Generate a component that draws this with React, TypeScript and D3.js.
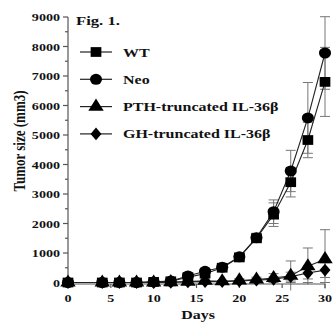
import * as d3 from "d3";

// Tumor growth curves, Fig. 1
const DAYS = [0, 4, 6, 8, 10, 12, 14, 16, 18, 20, 22, 24, 26, 28, 30];
const WT = [0, 0, 0, 0, 20, 40, 180, 300, 500, 850, 1500, 2300, 3400, 4830, 6800];
const WT_ERR = [0, 0, 0, 0, 10, 20, 60, 80, 100, 120, 150, 400, 500, 600, 1170];
const NEO = [0, 0, 0, 0, 20, 50, 220, 380, 520, 870, 1520, 2400, 3780, 5580, 7780];
const NEO_ERR = [0, 0, 0, 0, 10, 20, 80, 100, 100, 120, 150, 400, 700, 1200, 1230];
const PTH = [0, 0, 0, 0, 0, 10, 30, 60, 40, 70, 100, 150, 230, 550, 790];
const PTH_ERR = [0, 0, 0, 0, 0, 10, 20, 30, 30, 60, 80, 150, 500, 620, 1000];
const GH = [0, 0, 0, 0, 0, 10, 20, 30, 30, 50, 80, 110, 200, 320, 420];
const GH_ERR = [0, 0, 0, 0, 0, 10, 20, 20, 30, 40, 60, 80, 150, 200, 250];

const SERIES_NAMES = ["WT", "Neo", "PTH-truncated IL-36\u03b2", "GH-truncated IL-36\u03b2"];
const SERIES_SHAPES = ["square", "circle", "triangle", "diamond"];
const X_TICKS = [0, 5, 10, 15, 20, 25, 30];
const Y_TICKS = [0, 1000, 2000, 3000, 4000, 5000, 6000, 7000, 8000, 9000];

const FONT = "'Liberation Serif', 'Times New Roman', serif";
const SX = 1.28; // the figure is stretched sideways

const x = d3.scaleLinear().domain([0, 30]).range([68, 325]);
const y = d3.scaleLinear().domain([0, 9000]).range([282.5, 17]);

const symbolFor: Record<string, d3.SymbolType> = {
  square: d3.symbolSquare,
  circle: d3.symbolCircle,
  triangle: d3.symbolTriangle,
  diamond: d3.symbolDiamond,
};
const sizeFor: Record<string, number> = { square: 95, circle: 95, triangle: 85, diamond: 85 };

function Marker({ shape, cx, cy }: { shape: string; cx: number; cy: number }) {
  const p = d3.symbol(symbolFor[shape], sizeFor[shape])() ?? "";
  const sy = shape === "diamond" ? 0.75 : 1;
  return <path d={p} transform={`translate(${cx},${cy}) scale(1.1,${sy})`} fill="#000" />;
}

function T({ x: tx, y: ty, size, anchor = "start", children, weight = 700 }: any) {
  return (
    <text
      transform={`translate(${tx},${ty}) scale(${SX},1)`}
      fontFamily={FONT}
      fontSize={size}
      fontWeight={weight}
      textAnchor={anchor}
      fill="#111"
    >
      {children}
    </text>
  );
}

export default function App() {
  const series = [
    { v: WT, e: WT_ERR, shape: "square" },
    { v: NEO, e: NEO_ERR, shape: "circle" },
    { v: PTH, e: PTH_ERR, shape: "triangle" },
    { v: GH, e: GH_ERR, shape: "diamond" },
  ];
  const line = d3
    .line<number>()
    .x((_, i) => x(DAYS[i]))
    .y((d) => y(d));
  const axisY = 284;

  return (
    <svg width={333} height={323} style={{ position: "absolute", left: 0, top: 0, background: "#fff" }}>
      {/* error bars */}
      {series.map((s, si) =>
        s.v.map((v, i) =>
          s.e[i] > 0 ? (
            <g key={`e${si}-${i}`} stroke="#777" strokeWidth={1}>
              <line x1={x(DAYS[i])} x2={x(DAYS[i])} y1={y(v - s.e[i])} y2={y(v + s.e[i])} />
              <line x1={x(DAYS[i]) - 5} x2={x(DAYS[i]) + 5} y1={y(v + s.e[i])} y2={y(v + s.e[i])} />
              <line x1={x(DAYS[i]) - 5} x2={x(DAYS[i]) + 5} y1={y(Math.max(0, v - s.e[i]))} y2={y(Math.max(0, v - s.e[i]))} />
            </g>
          ) : null,
        ),
      )}

      {/* axes */}
      <g stroke="#555" strokeWidth={1.2} fill="none">
        <line x1={68} x2={68} y1={y(9000)} y2={axisY} />
        <line x1={68} x2={x(30)} y1={axisY} y2={axisY} />
        {d3.range(0, 9001, 500).map((t) => (
          <line key={`yt${t}`} x1={t % 1000 === 0 ? 63 : 65} x2={68} y1={y(t)} y2={y(t)} />
        ))}
        {X_TICKS.map((t) => (
          <line key={`xt${t}`} x1={x(t)} x2={x(t)} y1={axisY} y2={axisY + 4} />
        ))}
      </g>
      {Y_TICKS.map((t) => (
        <T key={`yl${t}`} x={60} y={y(t) + 4} size={11} anchor="end">
          {t}
        </T>
      ))}
      {X_TICKS.map((t) => (
        <T key={`xl${t}`} x={x(t)} y={302} size={11} anchor="middle">
          {t}
        </T>
      ))}
      <T x={198} y={319} size={12.5} anchor="middle">
        Days
      </T>
      <text
        transform={`translate(25,141) rotate(-90) scale(1,${SX})`}
        fontFamily={FONT}
        fontSize={13}
        fontWeight={700}
        textAnchor="middle"
        fill="#111"
      >
        Tumor size (mm3)
      </text>

      {/* lines */}
      {series.map((s, si) => (
        <path key={`l${si}`} d={line(s.v) ?? ""} fill="none" stroke="#222" strokeWidth={1.1} />
      ))}
      {/* markers */}
      {series.map((s, si) =>
        s.v.map((v, i) => <Marker key={`m${si}-${i}`} shape={s.shape} cx={x(DAYS[i])} cy={y(v)} />),
      )}

      {/* legend */}
      <T x={76} y={25} size={13}>
        Fig. 1.
      </T>
      {SERIES_NAMES.map((name, i) => {
        const ly = 52 + i * 27.3;
        return (
          <g key={name}>
            <line x1={80} x2={112} y1={ly} y2={ly} stroke="#222" strokeWidth={1.2} />
            <Marker shape={SERIES_SHAPES[i]} cx={96} cy={ly} />
            <T x={123} y={ly + 4.5} size={12.5}>
              {name}
            </T>
          </g>
        );
      })}
    </svg>
  );
}
